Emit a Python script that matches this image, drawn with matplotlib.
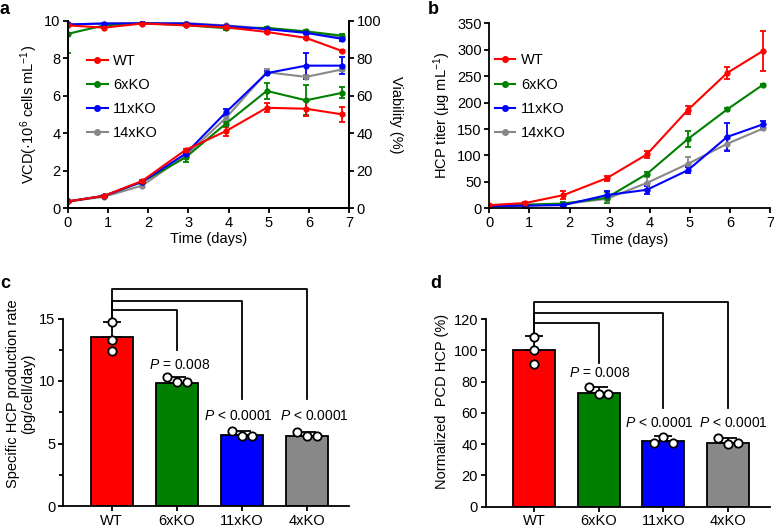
import matplotlib
matplotlib.use("Agg")
import matplotlib.pyplot as plt
from matplotlib.lines import Line2D
import numpy as np

FS = 10.5
PFS = 10.0
plt.rcParams['font.family'] = ['Liberation Sans', 'DejaVu Sans']
plt.rcParams['font.size'] = FS
plt.rcParams['axes.linewidth'] = 1.3
plt.rcParams['xtick.major.width'] = 1.3
plt.rcParams['ytick.major.width'] = 1.3
plt.rcParams['ytick.minor.width'] = 1.3
plt.rcParams['xtick.major.size'] = 3.5
plt.rcParams['ytick.major.size'] = 3.5
plt.rcParams['ytick.minor.size'] = 3.0
plt.rcParams['mathtext.fontset'] = 'custom'
plt.rcParams['mathtext.rm'] = 'Liberation Sans'
plt.rcParams['mathtext.it'] = 'Liberation Sans:italic'

# ---------------- data ----------------
days = [0, 0.9, 1.85, 2.93, 3.93, 4.95, 5.93, 6.83]
strains = ["WT", "6xKO", "11xKO", "14xKO"]
colors = ["#ff0000", "#008000", "#0000ff", "#888888"]

vcd_wt = [0.35, 0.65, 1.45, 3.1, 4.1, 5.35, 5.3, 5.0]
vcd_6 = [0.35, 0.65, 1.4, 2.7, 4.5, 6.25, 5.75, 6.15]
vcd_11 = [0.35, 0.65, 1.4, 2.9, 5.1, 7.2, 7.6, 7.6]
vcd_14 = [0.35, 0.6, 1.2, 2.8, 4.8, 7.25, 7.0, 7.4]
vcd_wt_err = [0.02, 0.03, 0.05, 0.05, 0.25, 0.25, 0.4, 0.4]
vcd_6_err = [0.02, 0.03, 0.05, 0.25, 0.1, 0.45, 0.8, 0.3]
vcd_11_err = [0.02, 0.03, 0.05, 0.05, 0.2, 0.1, 0.7, 0.45]
vcd_14_err = [0.02, 0.03, 0.05, 0.05, 0.1, 0.15, 0.1, 0.1]

via_wt = [97.5, 96.3, 98.5, 97.5, 96.5, 94.0, 90.8, 83.8]
via_6 = [93.0, 97.5, 98.7, 97.6, 96.0, 96.2, 94.3, 92.0]
via_11 = [98.0, 98.5, 98.6, 98.5, 97.2, 95.5, 93.5, 90.3]
via_14 = [98.0, 98.5, 98.7, 98.7, 97.5, 95.8, 94.0, 91.0]
via_wt_err = [0.3, 0.3, 0.3, 0.3, 0.3, 0.4, 0.5, 0.5]
via_6_err = [10.0, 0.3, 0.3, 0.4, 1.2, 0.5, 0.6, 1.0]
via_11_err = [0.3, 0.3, 0.3, 0.3, 0.4, 0.5, 0.6, 1.0]
via_14_err = [0.3, 0.3, 0.3, 0.3, 0.4, 0.5, 0.6, 0.8]

hcp_wt = [6, 10, 25, 57, 102, 186, 256, 298]
hcp_6 = [5, 7, 9, 20, 65, 131, 187, 234]
hcp_11 = [4, 5, 6, 25, 35, 72, 135, 159]
hcp_14 = [4, 5, 8, 18, 48, 84, 122, 151]
hcp_wt_err = [1, 2, 7, 5, 6, 8, 12, 38]
hcp_6_err = [1, 1, 2, 10, 3, 15, 2, 2]
hcp_11_err = [1, 1, 1, 8, 7, 6, 27, 7]
hcp_14_err = [1, 1, 1, 3, 12, 13, 12, 3]

bar_cats = ["WT", "6xKO", "11xKO", "4xKO"]
qp_mean = [13.5, 9.85, 5.65, 5.6]
qp_err = [1.2, 0.45, 0.35, 0.35]
qp_pts = [[14.7, 13.3, 12.4], [10.35, 9.9, 9.9], [6.0, 5.6, 5.6], [5.95, 5.6, 5.6]]
pcd_mean = [100, 73, 42, 41]
pcd_err = [9, 3.5, 3, 3]
pcd_pts = [[108.5, 100, 91], [76.5, 72, 72], [40.5, 44.5, 40.5], [44, 40, 40.5]]
pvals = ["$P$ = 0.008", "$P$ < 0.0001", "$P$ < 0.0001"]

W, H = 774, 529
fig = plt.figure(figsize=(W / 100, H / 100), dpi=100)


def ax_px(l, t, r, b):
    return fig.add_axes([l / W, 1 - b / H, (r - l) / W, (b - t) / H])


def style(ax):
    ax.spines['top'].set_visible(False)
    ax.tick_params(direction='out', labelsize=FS, pad=2)


def legend_handles():
    return [Line2D([0], [0], color=c, lw=1.5, marker='o', ms=4) for c in colors]


# ---------------- panel a ----------------
axa = ax_px(68, 20.7, 349, 208)
axa2 = axa.twinx()
vcds = [vcd_wt, vcd_6, vcd_11, vcd_14]
vcd_errs = [vcd_wt_err, vcd_6_err, vcd_11_err, vcd_14_err]
vias = [via_wt, via_6, via_11, via_14]
via_errs = [via_wt_err, via_6_err, via_11_err, via_14_err]
order = [3, 1, 2, 0]
for i in order:
    axa2.errorbar(days, vias[i], yerr=via_errs[i], color=colors[i], lw=1.5,
                  marker='o', ms=3.5, capsize=2, elinewidth=1.3, capthick=1.3)
for i in order:
    axa.errorbar(days, vcds[i], yerr=vcd_errs[i], color=colors[i], lw=1.5,
                 marker='o', ms=3.5, capsize=2, elinewidth=1.3, capthick=1.3)
axa.set_xlim(0, 7)
axa.set_ylim(0, 10)
axa2.set_ylim(0, 100)
axa.set_xticks(range(8))
axa.set_yticks([0, 2, 4, 6, 8, 10])
axa2.set_yticks([0, 20, 40, 60, 80, 100])
for ax in (axa, axa2):
    ax.spines['top'].set_visible(False)
    ax.tick_params(direction='out', labelsize=FS, pad=2)
axa.set_xlabel("Time (days)", labelpad=2)
axa.set_ylabel("VCD(·10$^{6}$ cells mL$^{-1}$)", labelpad=3)
axa2.set_ylabel("Viability (%)", rotation=270, labelpad=16)
axa.legend(legend_handles(), strains, frameon=False, loc='center left',
           bbox_to_anchor=(0.068, 0.593), handlelength=1.4, handletextpad=0.4,
           labelspacing=0.7, fontsize=FS, borderaxespad=0, borderpad=0)

# ---------------- panel b ----------------
axb = ax_px(489.3, 23.3, 770, 208.3)
hcps = [hcp_wt, hcp_6, hcp_11, hcp_14]
hcp_errs = [hcp_wt_err, hcp_6_err, hcp_11_err, hcp_14_err]
for i in order:
    axb.errorbar(days, hcps[i], yerr=hcp_errs[i], color=colors[i], lw=1.5,
                 marker='o', ms=3.5, capsize=2, elinewidth=1.3, capthick=1.3)
axb.set_xlim(0, 7)
axb.set_ylim(0, 350)
axb.set_xticks(range(8))
axb.set_yticks(range(0, 351, 50))
style(axb)
axb.spines['right'].set_visible(False)
axb.set_xlabel("Time (days)", labelpad=2)
axb.set_ylabel("HCP titer (μg mL$^{-1}$)", labelpad=3)
axb.legend(legend_handles(), strains, frameon=False, loc='center left',
           bbox_to_anchor=(0.02, 0.603), handlelength=1.4, handletextpad=0.4,
           labelspacing=0.7, fontsize=FS, borderaxespad=0, borderpad=0)


# ---------------- bar panels ----------------
def bar_panel(ax, means, errs, pts, top, bracket_y, drop_y, p_y, p_dx, ymax_tick, ystep):
    x = np.arange(len(bar_cats))
    ax.bar(x, means, width=0.65, color=colors, edgecolor='black', linewidth=1.3, zorder=2)
    ax.errorbar(x, means, yerr=[np.zeros(len(x)), errs], fmt='none', ecolor='black',
                elinewidth=1.3, capsize=6.5, capthick=1.3, zorder=3)
    for i in range(len(x)):
        if i == 0:
            xs = [x[i]] * 3
        else:
            xs = [x[i] - 0.15, x[i], x[i] + 0.15]
        ax.plot(xs, pts[i], 'o', mfc='white', mec='black', mew=1.3, ms=6, zorder=4,
                clip_on=False)
    ax.set_xlim(-0.75, 3.65)
    ax.set_ylim(0, top)
    ax.set_xticks(x)
    ax.set_xticklabels(bar_cats)
    ax.set_yticks(np.arange(0, ymax_tick + 0.01, ystep))
    ax.spines['left'].set_bounds(0, ymax_tick)
    ax.spines['right'].set_visible(False)
    style(ax)
    wt_top = means[0] + errs[0]
    for j, (by, dy) in enumerate(zip(bracket_y, drop_y)):
        ax.plot([0, 0, j + 1, j + 1], [wt_top, by, by, dy], color='black', lw=1.3,
                clip_on=False, zorder=1)
        ax.text(j + 1 + p_dx[j], p_y[j], pvals[j], ha='center',
                va='center', fontsize=PFS)


axc = ax_px(63, 281, 349, 506)
bar_panel(axc, qp_mean, qp_err, qp_pts, 18, [15.68, 16.43, 17.33], [12.48, 8.6, 8.6],
          [11.3, 7.2, 7.2], [0.04, -0.05, 0.11], 15, 5)
axc.set_yticks([2.5, 7.5, 12.5], minor=True)
axc.tick_params(axis='y', which='minor', direction='out')
axc.set_ylabel("Specific HCP production rate\n(pg/cell/day)", labelpad=3, linespacing=1.1)

axd = ax_px(485.7, 295.6, 770, 506.7)
bar_panel(axd, pcd_mean, pcd_err, pcd_pts, 135, [117.7, 124.0, 130.7], [91.7, 62.9, 62.9],
          [85.3, 53.3, 53.3], [0.02, -0.06, 0.09], 120, 20)
axd.set_ylabel("Normalized  PCD HCP (%)", labelpad=3)

# panel letters
for txt, xp, yp in [("a", 0, 10), ("b", 428, 10), ("c", 0, 283), ("d", 430, 283)]:
    fig.text(xp / W, 1 - yp / H, txt, fontsize=13, fontweight='bold', va='center', ha='left')

fig.savefig("out.png", dpi=100)
